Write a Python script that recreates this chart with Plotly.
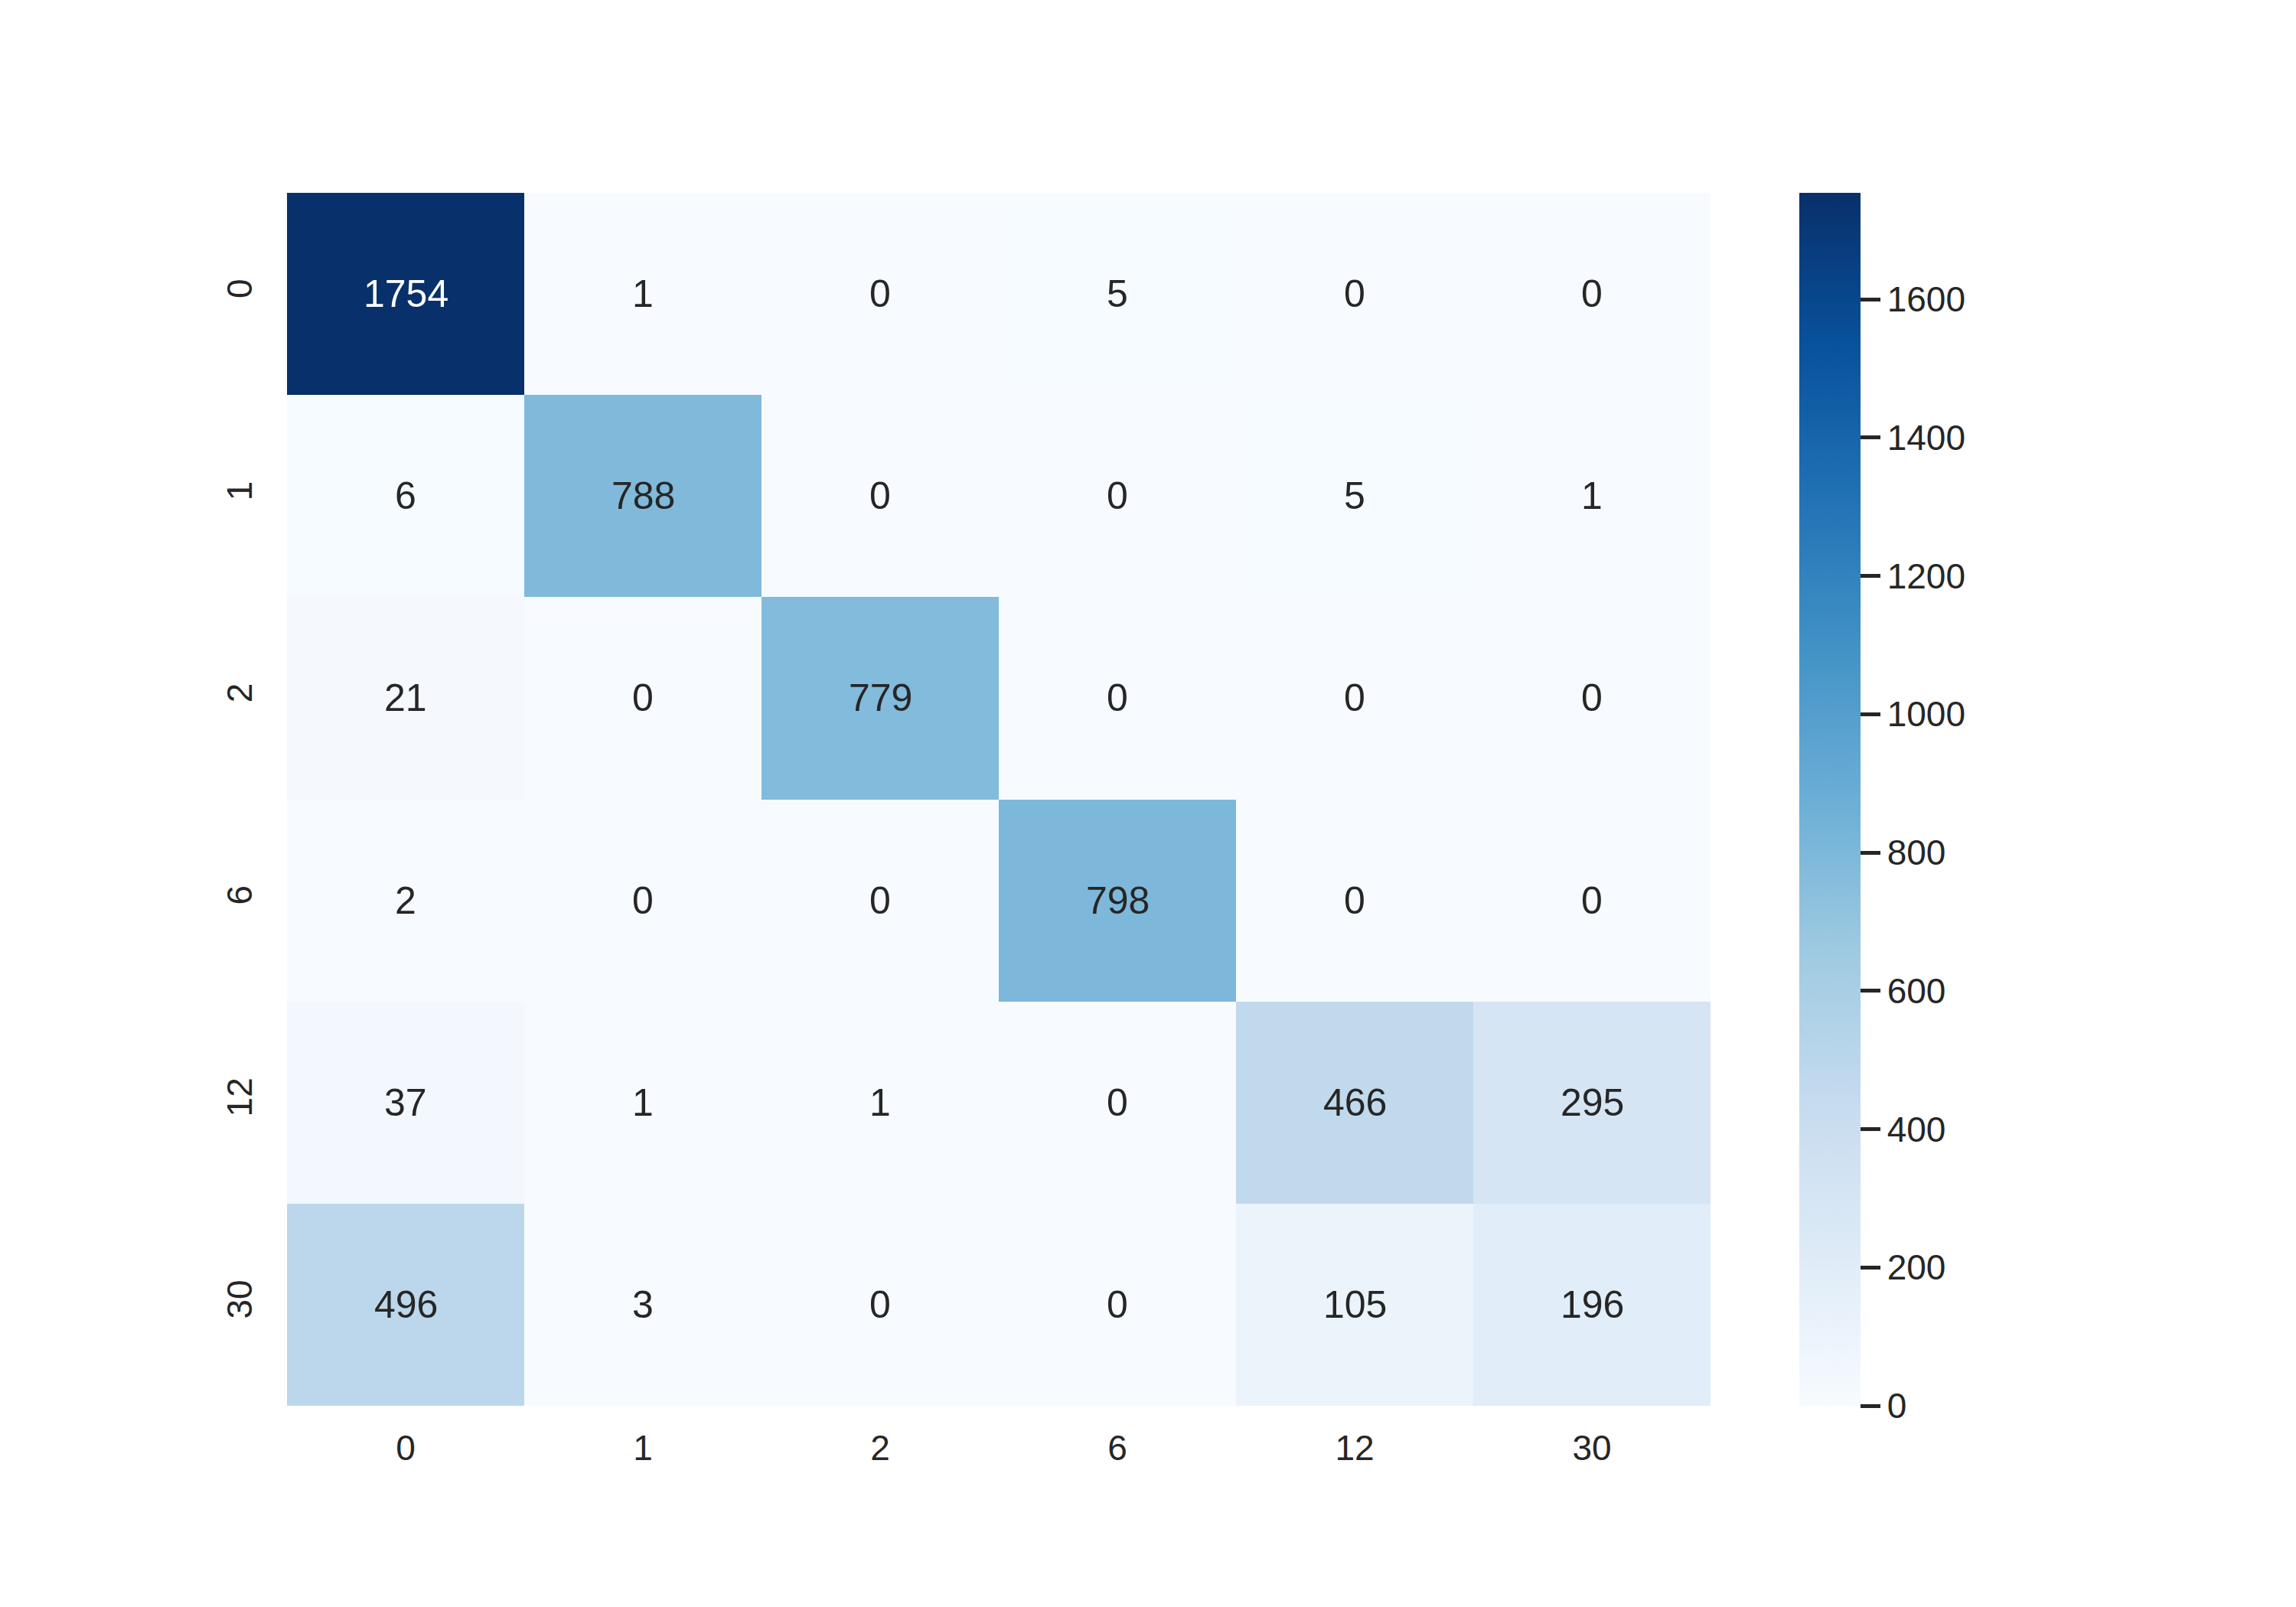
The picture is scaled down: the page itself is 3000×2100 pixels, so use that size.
import plotly.graph_objects as go

labels = ["0", "1", "2", "6", "12", "30"]
matrix = [
    [1754, 1, 0, 5, 0, 0],
    [6, 788, 0, 0, 5, 1],
    [21, 0, 779, 0, 0, 0],
    [2, 0, 0, 798, 0, 0],
    [37, 1, 1, 0, 466, 295],
    [496, 3, 0, 0, 105, 196],
]
cbar_ticks = [0, 200, 400, 600, 800, 1000, 1200, 1400, 1600]

blues = ["#f7fbff", "#deebf7", "#c6dbef", "#9ecae1", "#6baed6",
         "#4292c6", "#2171b5", "#08519c", "#08306b"]
colorscale = [[i / (len(blues) - 1), c] for i, c in enumerate(blues)]

zmin = 0
zmax = max(max(r) for r in matrix)

# page body has an 8px default margin, so compensate
OFF = 8
W, H = 3000, 2100
L, T = 375 - OFF, 252 - OFF
R, B = W - (2235 - OFF), H - (1837 - OFF)
plot_w = W - L - R

fig = go.Figure(go.Heatmap(
    z=matrix, x=labels, y=labels,
    colorscale=colorscale, zmin=zmin, zmax=zmax,
    colorbar=dict(
        x=(2351 - OFF - L) / plot_w, xanchor="left", xref="paper",
        y=0, yanchor="bottom", len=1, lenmode="fraction",
        xpad=0, ypad=0,
        thickness=80, outlinewidth=0,
        tickvals=cbar_ticks, ticks="outside", ticklen=26, tickwidth=5,
        tickcolor="#262626",
        tickfont=dict(family="Liberation Sans, Arial", size=46, color="#262626"),
    ),
    hoverongaps=False,
))

def hex_to_rgb(h):
    h = h.lstrip("#")
    return [int(h[i:i + 2], 16) / 255 for i in (0, 2, 4)]

def interp_color(v):
    t = (v - zmin) / (zmax - zmin)
    pos = t * (len(blues) - 1)
    i = min(int(pos), len(blues) - 2)
    f = pos - i
    a, b = hex_to_rgb(blues[i]), hex_to_rgb(blues[i + 1])
    return [a[k] + (b[k] - a[k]) * f for k in range(3)]

def luminance(rgb):
    out = []
    for c in rgb:
        out.append(c / 12.92 if c <= 0.03928 else ((c + 0.055) / 1.055) ** 2.4)
    return 0.2126 * out[0] + 0.7152 * out[1] + 0.0722 * out[2]

annotations = []
for i, row in enumerate(matrix):
    for j, v in enumerate(row):
        col = "white" if luminance(interp_color(v)) < 0.408 else "#262626"
        annotations.append(dict(
            x=j, y=i, xref="x", yref="y", text=str(v),
            showarrow=False,
            font=dict(family="Liberation Sans, Arial", size=50, color=col),
        ))

fig.update_layout(
    width=W, height=H,
    margin=dict(l=L, r=R, t=T, b=B),
    paper_bgcolor="white", plot_bgcolor="white",
    annotations=annotations,
    xaxis=dict(type="category", showgrid=False, zeroline=False, ticks="",
               tickfont=dict(family="Liberation Sans, Arial", size=46, color="#262626"),
               ticklabelstandoff=24),
    yaxis=dict(type="category", autorange="reversed", showgrid=False,
               zeroline=False, ticks="", tickangle=-90,
               tickfont=dict(family="Liberation Sans, Arial", size=46, color="#262626"),
               ticklabelstandoff=36),
)

fig.write_html("out.html")
